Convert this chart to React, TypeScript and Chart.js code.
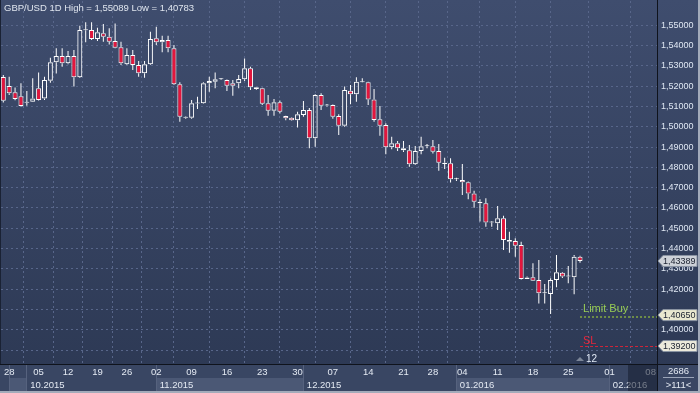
import React, { useEffect, useRef } from "react";
import { Chart, registerables } from "chart.js";

Chart.register(...registerables);

const titleText = "GBP/USD 1D High = 1,55089 Low = 1,40783";

const opens = [
  1.5245, 1.5201, 1.517, 1.515, 1.5119, 1.5124, 1.519, 1.514, 1.5227, 1.5318,
  1.5349, 1.5313, 1.5349, 1.5244, 1.5476, 1.5477, 1.5433, 1.5461, 1.5444, 1.5423,
  1.5392, 1.5308, 1.5354, 1.5304, 1.5264, 1.5308, 1.5436, 1.5416, 1.5428, 1.5387,
  1.5209, 1.505, 1.5045, 1.5115, 1.5116, 1.5214, 1.5222, 1.5234, 1.5231, 1.5214,
  1.5214, 1.5234, 1.5288, 1.5195, 1.519, 1.5116, 1.5079, 1.5121, 1.5053, 1.5045,
  1.5032, 1.5058, 1.5083, 1.4943, 1.5157, 1.5105, 1.5107, 1.5053, 1.5005, 1.5178,
  1.516, 1.522, 1.5219, 1.5135, 1.5037, 1.5009, 1.4899, 1.4919, 1.4894, 1.4884,
  1.4815, 1.4881, 1.4904, 1.4904, 1.4881, 1.4823, 1.482, 1.4741, 1.4738, 1.4727,
  1.4672, 1.4631, 1.4623, 1.4528, 1.4525, 1.4549, 1.4442, 1.4438, 1.4418, 1.425,
  1.4259, 1.4245, 1.418, 1.4176, 1.4245, 1.4281, 1.4262, 1.4259, 1.436,
];
const highs = [
  1.5255, 1.5247, 1.5193, 1.5214, 1.5176, 1.5239, 1.5268, 1.5247, 1.534, 1.5387,
  1.5387, 1.5373, 1.5378, 1.5498, 1.5515, 1.5515, 1.5488, 1.5506, 1.5485, 1.55089,
  1.5419, 1.5387, 1.5378, 1.5324, 1.5324, 1.5468, 1.5493, 1.5449, 1.5449, 1.5403,
  1.5219, 1.5052, 1.5132, 1.5148, 1.5219, 1.5247, 1.5268, 1.5239, 1.5233, 1.5231,
  1.5255, 1.5337, 1.5296, 1.5196, 1.5192, 1.5157, 1.5137, 1.5129, 1.5055, 1.5047,
  1.5074, 1.5127, 1.5093, 1.516, 1.5165, 1.5112, 1.511, 1.5062, 1.5198, 1.5206,
  1.5244, 1.5239, 1.5222, 1.5186, 1.5102, 1.5017, 1.4951, 1.493, 1.493, 1.491,
  1.4905, 1.4951, 1.4915, 1.4935, 1.4915, 1.4848, 1.4845, 1.4749, 1.4817, 1.473,
  1.4685, 1.4643, 1.4648, 1.4535, 1.461, 1.4562, 1.4483, 1.4451, 1.4434, 1.4262,
  1.4328, 1.4344, 1.4226, 1.4254, 1.4368, 1.4285, 1.4314, 1.4368, 1.4365,
];
const lows = [
  1.512, 1.5157, 1.5131, 1.51, 1.5104, 1.5122, 1.513, 1.5132, 1.5217, 1.5262,
  1.5296, 1.5308, 1.5198, 1.524, 1.5416, 1.5428, 1.5423, 1.5419, 1.5406, 1.5387,
  1.5304, 1.5304, 1.528, 1.5247, 1.5242, 1.5305, 1.5403, 1.5367, 1.5367, 1.5206,
  1.5025, 1.504, 1.504, 1.5088, 1.5114, 1.5173, 1.519, 1.523, 1.5176, 1.5153,
  1.519, 1.5226, 1.5181, 1.5183, 1.5107, 1.5055, 1.5055, 1.5066, 1.5032, 1.503,
  1.4996, 1.505, 1.4894, 1.4902, 1.5083, 1.51, 1.504, 1.496, 1.5, 1.5111,
  1.5124, 1.5218, 1.5107, 1.5025, 1.4956, 1.4865, 1.4889, 1.4881, 1.4876, 1.4803,
  1.4812, 1.4865, 1.4894, 1.4869, 1.4784, 1.4792, 1.4725, 1.4733, 1.4664, 1.4643,
  1.4601, 1.4533, 1.4508, 1.4508, 1.4492, 1.4393, 1.438, 1.436, 1.4248, 1.425,
  1.424, 1.413, 1.413, 1.40783, 1.4209, 1.4255, 1.4229, 1.4175, 1.433,
];
const closes = [
  1.5128, 1.5165, 1.5137, 1.5102, 1.5122, 1.514, 1.5132, 1.5231, 1.5318, 1.5349,
  1.5313, 1.5349, 1.5244, 1.5477, 1.5478, 1.5433, 1.5466, 1.5444, 1.5419, 1.539,
  1.5313, 1.5354, 1.5304, 1.5264, 1.5308, 1.5433, 1.5416, 1.5428, 1.5387, 1.5209,
  1.505, 1.5045, 1.5116, 1.5117, 1.5214, 1.5226, 1.5234, 1.5236, 1.5202, 1.5202,
  1.5235, 1.5288, 1.5195, 1.5186, 1.5114, 1.5079, 1.5121, 1.5074, 1.5042, 1.5032,
  1.5062, 1.5083, 1.4943, 1.5157, 1.5104, 1.5107, 1.505, 1.5005, 1.5181, 1.516,
  1.5222, 1.5222, 1.5135, 1.5033, 1.5005, 1.4899, 1.4919, 1.4894, 1.4884, 1.4815,
  1.4881, 1.4904, 1.4906, 1.4877, 1.4823, 1.4817, 1.4741, 1.4743, 1.4727, 1.4672,
  1.4631, 1.4623, 1.4528, 1.453, 1.4549, 1.4442, 1.4434, 1.4414, 1.425, 1.4257,
  1.4242, 1.418, 1.4182, 1.4245, 1.4283, 1.4262, 1.4264, 1.436, 1.43389,
];

const weekTickIdx = [1, 6, 11, 16, 21, 26, 32, 38, 44, 50, 56, 62, 68, 73, 78, 84, 90, 96, 103, 110];
const weekTickLabels = ["28", "05", "12", "19", "26", "02", "09", "16", "23", "30", "07", "14", "21", "28", "04", "11", "18", "25", "01", "08"];
const monthStartIdx = [1, 4, 26, 51, 77, 103];
const monthLabels = ["", "10.2015", "11.2015", "12.2015", "01.2016", "02.2016"];
const priceTicks = [1.39, 1.4, 1.41, 1.42, 1.43, 1.44, 1.45, 1.46, 1.47, 1.48, 1.49, 1.5, 1.51, 1.52, 1.53, 1.54, 1.55];

const lastPrice = 1.43389;
const limitBuyPrice = 1.4065;
const stopLossPrice = 1.392;
const limitBuyLabel = "Limit Buy";
const stopLossLabel = "SL";
const orderTicket = "12";
const barsTotal = "2686";
const shiftLabel = ">111<";

const FONT = "'Liberation Sans', Arial, sans-serif";
const fmt = (v: number) => v.toFixed(5).replace(".", ",");

export default function App() {
  const ref = useRef<HTMLCanvasElement | null>(null);

  useEffect(() => {
    const canvas = ref.current;
    if (!canvas) return;
    const n = opens.length;
    const lastIdx = n - 1;
    const red = "#e3163d";

    const bodyData = opens.map((o, i) => ({ x: i, y: [o, closes[i]] }));
    const upData = opens.map((o, i) => ({ x: i, y: [Math.max(o, closes[i]), highs[i]] }));
    const loData = opens.map((o, i) => ({ x: i, y: [lows[i], Math.min(o, closes[i])] }));
    const bodyColors = opens.map((o, i) => (closes[i] < o ? red : "rgba(0,0,0,0)"));

    const drawTag = (ctx: CanvasRenderingContext2D, x0: number, yy: number, text: string, fill: string) => {
      const h = 11;
      ctx.beginPath();
      ctx.moveTo(x0 + 1, yy);
      ctx.lineTo(x0 + 6, yy - h / 2);
      ctx.lineTo(x0 + 40, yy - h / 2);
      ctx.lineTo(x0 + 40, yy + h / 2);
      ctx.lineTo(x0 + 6, yy + h / 2);
      ctx.closePath();
      ctx.fillStyle = fill;
      ctx.fill();
      ctx.strokeStyle = "#8a93a3";
      ctx.lineWidth = 1;
      ctx.stroke();
      ctx.fillStyle = "#1b2130";
      ctx.font = `9px ${FONT}`;
      ctx.textAlign = "left";
      ctx.textBaseline = "middle";
      ctx.fillText(text, x0 + 6, yy + 0.5);
    };

    const deco = {
      id: "deco",
      beforeDraw(chart: any) {
        const { ctx, chartArea: a, scales } = chart;
        const xs = scales.x;
        const W = chart.width;
        const H = chart.height;
        ctx.save();
        const g = ctx.createLinearGradient(0, 0, 0, H);
        g.addColorStop(0, "#3f4d6e");
        g.addColorStop(1, "#2c3853");
        ctx.fillStyle = g;
        ctx.fillRect(0, 0, W, H);
        ctx.fillStyle = "#394663";
        ctx.fillRect(0, a.bottom, W, H - a.bottom);
        for (let m = 0; m < monthStartIdx.length; m++) {
          const xa = Math.round(xs.getPixelForValue(monthStartIdx[m] - 0.1));
          const xb = m + 1 < monthStartIdx.length ? Math.round(xs.getPixelForValue(monthStartIdx[m + 1] - 0.1)) : a.right;
          if (m % 2 === 0) {
            ctx.fillStyle = "#4b5875";
            ctx.fillRect(xa, a.bottom + 14, xb - xa, H - a.bottom - 16);
          }
          ctx.strokeStyle = "#56627e";
          ctx.lineWidth = 1;
          ctx.beginPath();
          ctx.moveTo(xa + 0.5, a.bottom + 1);
          ctx.lineTo(xa + 0.5, H - 2);
          ctx.stroke();
        }
        ctx.restore();
      },
      afterDraw(chart: any) {
        const { ctx, chartArea: a, scales } = chart;
        const xs = scales.x;
        const ys = scales.y;
        const W = chart.width;
        const H = chart.height;
        ctx.save();
        ctx.font = `9.5px ${FONT}`;
        ctx.fillStyle = "#e4eaf3";
        ctx.textBaseline = "middle";
        ctx.textAlign = "center";
        weekTickIdx.forEach((v, k) => {
          ctx.fillText(weekTickLabels[k], xs.getPixelForValue(v), a.bottom + 8);
        });
        ctx.textAlign = "left";
        monthStartIdx.forEach((v, k) => {
          if (!monthLabels[k]) return;
          ctx.fillText(monthLabels[k], xs.getPixelForValue(v - 0.1) + 4, a.bottom + 21);
        });
        ctx.fillStyle = "rgba(22,30,48,0.55)";
        ctx.fillRect(a.right - 29, a.bottom + 1, 29, H - a.bottom - 1);

        ctx.strokeStyle = "#0f131c";
        ctx.lineWidth = 1;
        ctx.beginPath();
        ctx.moveTo(0, a.bottom + 0.5);
        ctx.lineTo(W, a.bottom + 0.5);
        ctx.moveTo(a.right + 0.5, 0);
        ctx.lineTo(a.right + 0.5, H);
        ctx.stroke();

        ctx.fillStyle = "#e4eaf3";
        ctx.textAlign = "center";
        const cx = (a.right + W) / 2;
        ctx.fillText(barsTotal, cx, a.bottom + 7);
        ctx.fillText(shiftLabel, cx, a.bottom + 21);
        ctx.strokeStyle = "#9aa4b8";
        ctx.beginPath();
        ctx.moveTo(a.right + 6, a.bottom + 13.5);
        ctx.lineTo(W - 6, a.bottom + 13.5);
        ctx.stroke();

        const x0 = xs.getPixelForValue(lastIdx);
        const yL = Math.round(ys.getPixelForValue(limitBuyPrice));
        const yS = Math.round(ys.getPixelForValue(stopLossPrice));
        ctx.setLineDash([2, 2]);
        ctx.strokeStyle = "#6e8d48";
        ctx.lineWidth = 2;
        ctx.beginPath();
        ctx.moveTo(x0, yL);
        ctx.lineTo(a.right, yL);
        ctx.stroke();
        ctx.setLineDash([3, 2]);
        ctx.strokeStyle = "#cf2439";
        ctx.lineWidth = 1;
        ctx.beginPath();
        ctx.moveTo(x0, yS + 0.5);
        ctx.lineTo(a.right, yS + 0.5);
        ctx.stroke();
        ctx.setLineDash([]);
        ctx.font = `11px ${FONT}`;
        ctx.textAlign = "left";
        ctx.textBaseline = "alphabetic";
        ctx.fillStyle = "#98cc55";
        ctx.fillText(limitBuyLabel, x0 + 3, yL - 5);
        ctx.fillStyle = "#e8263b";
        ctx.fillText(stopLossLabel, x0 + 3, yS - 2);

        ctx.fillStyle = "#7c8698";
        ctx.beginPath();
        ctx.moveTo(x0 - 4, a.bottom - 3);
        ctx.lineTo(x0 + 4, a.bottom - 3);
        ctx.lineTo(x0, a.bottom - 7);
        ctx.closePath();
        ctx.fill();
        ctx.font = `10px ${FONT}`;
        ctx.fillStyle = "#e0e8f4";
        ctx.textBaseline = "middle";
        ctx.fillText(orderTicket, x0 + 6, a.bottom - 5);

        drawTag(ctx, a.right, ys.getPixelForValue(lastPrice), fmt(lastPrice), "#cdd1d8");
        drawTag(ctx, a.right, ys.getPixelForValue(limitBuyPrice) - 1.5, fmt(limitBuyPrice), "#e9e8cf");
        drawTag(ctx, a.right, ys.getPixelForValue(stopLossPrice), fmt(stopLossPrice), "#eceadb");

        ctx.font = `9.5px ${FONT}`;
        ctx.fillStyle = "#dfe5ee";
        ctx.textAlign = "left";
        ctx.textBaseline = "alphabetic";
        ctx.fillText(titleText, 4, 11);

        ctx.strokeStyle = "#a3abba";
        ctx.lineWidth = 2;
        ctx.beginPath();
        ctx.moveTo(W - 1, 0);
        ctx.lineTo(W - 1, H - 1);
        ctx.lineTo(0, H - 1);
        ctx.stroke();
        ctx.strokeStyle = "#1a2234";
        ctx.lineWidth = 1;
        ctx.beginPath();
        ctx.moveTo(0.5, 0);
        ctx.lineTo(0.5, a.bottom);
        ctx.stroke();
        ctx.restore();
      },
    };

    const chart = new Chart(canvas, {
      type: "bar",
      data: {
        datasets: [
          {
            label: "body",
            data: bodyData as any,
            backgroundColor: bodyColors,
            borderColor: "#ffffff",
            borderWidth: 1,
            borderSkipped: false,
            barThickness: 5,
            minBarLength: 1,
            inflateAmount: 0,
            grouped: false,
            order: 0,
          } as any,
          {
            label: "upper",
            data: upData as any,
            backgroundColor: "#ffffff",
            borderWidth: 0,
            barThickness: 1,
            inflateAmount: 0,
            grouped: false,
            order: 1,
          } as any,
          {
            label: "lower",
            data: loData as any,
            backgroundColor: "#ffffff",
            borderWidth: 0,
            barThickness: 1,
            inflateAmount: 0,
            grouped: false,
            order: 1,
          } as any,
        ],
      },
      options: {
        responsive: false,
        animation: false,
        events: [],
        layout: { autoPadding: false, padding: { left: 1, top: 1, right: 0, bottom: 0 } },
        plugins: { legend: { display: false }, tooltip: { enabled: false }, title: { display: false } },
        scales: {
          x: {
            type: "linear",
            min: -0.391,
            max: 111.08,
            offset: false,
            afterBuildTicks: (s: any) => {
              s.ticks = weekTickIdx.map((v) => ({ value: v }));
            },
            afterFit: (s: any) => {
              s.height = 29;
              s.paddingLeft = 0;
              s.paddingRight = 0;
              s.paddingTop = 0;
              s.paddingBottom = 0;
            },
            ticks: { display: false },
            grid: { color: "#58668a", lineWidth: 1, drawTicks: false },
            border: { display: false, dash: [2, 3] },
          },
          y: {
            type: "linear",
            position: "right",
            min: 1.38315,
            max: 1.56197,
            afterBuildTicks: (s: any) => {
              s.ticks = priceTicks.map((v) => ({ value: v }));
            },
            afterFit: (s: any) => {
              s.width = 43;
              s.paddingTop = 0;
              s.paddingBottom = 0;
              s.paddingLeft = 0;
              s.paddingRight = 0;
            },
            ticks: {
              padding: 4,
              color: "#dfe7f3",
              font: { size: 9, family: FONT },
              callback: (v: any) => {
                const n = Number(v);
                if (Math.abs(n - limitBuyPrice) < 0.004 || Math.abs(n - stopLossPrice) < 0.004) return "";
                return fmt(n);
              },
            },
            grid: { color: "#58668a", lineWidth: 1, drawTicks: false },
            border: { display: false, dash: [2, 3] },
          },
        },
      } as any,
      plugins: [deco],
    });
    return () => chart.destroy();
  }, []);

  return (
    <div style={{ position: "fixed", left: 0, top: 0, width: 700, height: 393 }}>
      <canvas ref={ref} width={700} height={393} style={{ display: "block", width: 700, height: 393 }} />
    </div>
  );
}
